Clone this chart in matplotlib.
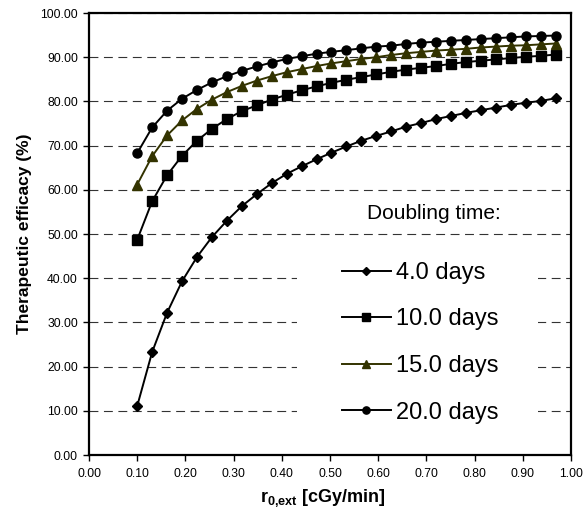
import matplotlib
matplotlib.use("Agg")
import matplotlib.pyplot as plt
from matplotlib.patches import Rectangle

plt.rcParams['font.family'] = ['Liberation Sans', 'DejaVu Sans']
plt.rcParams['mathtext.fontset'] = 'custom'
plt.rcParams['mathtext.rm'] = 'Liberation Sans'
plt.rcParams['mathtext.bf'] = 'Liberation Sans:bold'

# dose rate r0,ext [cGy/min]
r0 = [0.100, 0.131, 0.162, 0.193, 0.224, 0.255, 0.286, 0.317, 0.348, 0.379,
      0.410, 0.441, 0.472, 0.503, 0.534, 0.565, 0.596, 0.627, 0.658, 0.689,
      0.720, 0.751, 0.782, 0.813, 0.844, 0.875, 0.906, 0.937, 0.968]

eff_4 = [11.1, 23.3, 32.2, 39.3, 44.8, 49.3, 53.0, 56.3, 59.0, 61.5,
         63.6, 65.3, 66.9, 68.4, 69.8, 71.1, 72.2, 73.2, 74.3, 75.1,
         76.0, 76.7, 77.4, 78.0, 78.6, 79.2, 79.7, 80.1, 80.7]
eff_10 = [48.7, 57.4, 63.3, 67.7, 71.1, 73.8, 76.0, 77.8, 79.1, 80.4,
          81.5, 82.5, 83.4, 84.2, 84.9, 85.5, 86.1, 86.7, 87.2, 87.6,
          88.0, 88.5, 88.9, 89.2, 89.5, 89.8, 90.1, 90.3, 90.6]
eff_15 = [61.2, 67.6, 72.3, 75.7, 78.3, 80.4, 82.1, 83.5, 84.7, 85.7,
          86.6, 87.3, 88.0, 88.6, 89.1, 89.6, 90.0, 90.5, 90.9, 91.2,
          91.5, 91.7, 91.9, 92.2, 92.4, 92.6, 92.7, 92.9, 93.1]
eff_20 = [68.3, 74.1, 77.9, 80.6, 82.6, 84.3, 85.7, 86.9, 87.9, 88.8,
          89.6, 90.2, 90.8, 91.2, 91.6, 92.0, 92.4, 92.6, 93.0, 93.3,
          93.5, 93.7, 93.9, 94.1, 94.3, 94.5, 94.7, 94.8, 94.9]

labels = ["4.0 days", "10.0 days", "15.0 days", "20.0 days"]
x_ticks = [0.0, 0.1, 0.2, 0.3, 0.4, 0.5, 0.6, 0.7, 0.8, 0.9, 1.0]
y_ticks = [0, 10, 20, 30, 40, 50, 60, 70, 80, 90, 100]

fig = plt.figure(figsize=(5.83, 5.18), dpi=100)
ax = fig.add_axes([0.1527, 0.1216, 0.8267, 0.8533])

ax.plot(r0, eff_4, color='black', lw=1.4, marker='D', ms=5, label=labels[0], zorder=3)
ax.plot(r0, eff_10, color='black', lw=1.4, marker='s', ms=7, label=labels[1], zorder=3)
ax.plot(r0, eff_15, color='#333300', lw=1.4, marker='^', ms=7, label=labels[2], zorder=3)
ax.plot(r0, eff_20, color='black', lw=1.4, marker='o', ms=6.5, label=labels[3], zorder=3)

ax.set_xlim(0, 1)
ax.set_ylim(0, 100)
ax.set_xticks(x_ticks)
ax.set_yticks(y_ticks)
ax.set_xticklabels([f"{v:.2f}" for v in x_ticks])
ax.set_yticklabels([f"{v:.2f}" for v in y_ticks])
ax.tick_params(labelsize=8.7, length=4, width=1, direction='out')
ax.tick_params(axis='y', pad=4)
ax.tick_params(axis='x', pad=5)

ax.set_axisbelow(True)
ax.yaxis.grid(True, color='#333333', lw=0.8, linestyle=(0, (8, 5)))
for s in ax.spines.values():
    s.set_linewidth(1.6)

# white box behind the legend hides the grid
ax.add_patch(Rectangle((0.4315, 0.0566), 0.5, 0.4074, transform=ax.transAxes,
                       facecolor='white', edgecolor='none', zorder=1))

ax.text(0.5768, 0.5475, "Doubling time:", transform=ax.transAxes,
        ha='left', va='center', fontsize=15)
ax.legend(loc='center left', bbox_to_anchor=(0.525, 0.254), frameon=False,
          fontsize=17, handlelength=2.07, handletextpad=0.2, labelspacing=1.04,
          borderpad=0, borderaxespad=0, markerscale=0.8)

ax.set_ylabel("Therapeutic efficacy (%)", fontsize=12.5, fontweight='bold')
ax.yaxis.set_label_coords(-0.118, 0.5)
ax.set_xlabel(r"r$_{\mathbf{0{,}ext}}$ [cGy/min]", fontsize=13, fontweight='bold')
ax.xaxis.set_label_coords(0.484, -0.072)

fig.savefig("out.png", dpi=100)
